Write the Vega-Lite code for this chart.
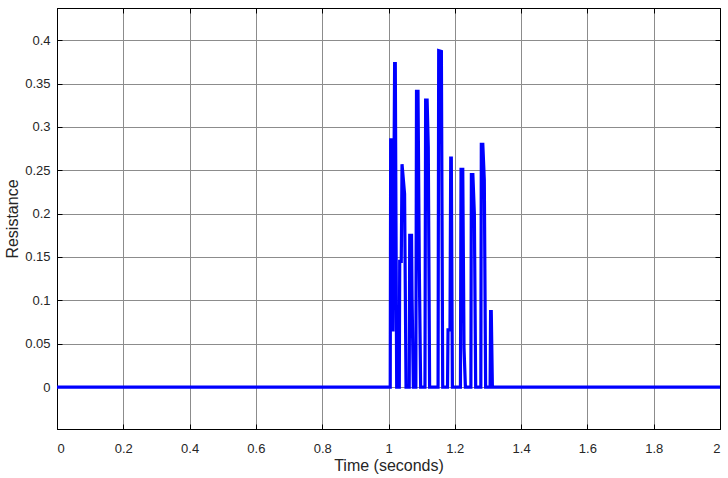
{
  "$schema": "https://vega.github.io/schema/vega-lite/v6.json",
  "autosize": {"type": "none"},
  "padding": {"left": 57, "top": 8, "right": 8, "bottom": 49},
  "width": 663,
  "height": 421,
  "background": "white",
  "config": {
    "view": {"stroke": "black", "strokeWidth": 1},
    "axis": {
      "labelFont": "Liberation Sans",
      "titleFont": "Liberation Sans",
      "labelFontSize": 13,
      "titleFontSize": 16,
      "titleFontWeight": "normal",
      "labelColor": "#262626",
      "titleColor": "#262626",
      "domainColor": "black",
      "tickColor": "black",
      "gridColor": "#8c8c8c",
      "gridOpacity": 1,
      "gridWidth": 1
    }
  },
  "data": {
    "values": [
      {"t": 0, "r": 0},
      {"t": 1.0052, "r": 0},
      {"t": 1.0066, "r": 0.285},
      {"t": 1.0105, "r": 0.285},
      {"t": 1.0136, "r": 0.064},
      {"t": 1.0185, "r": 0.373},
      {"t": 1.0205, "r": 0.373},
      {"t": 1.0247, "r": 0},
      {"t": 1.0325, "r": 0},
      {"t": 1.0338, "r": 0.145},
      {"t": 1.0385, "r": 0.145},
      {"t": 1.0408, "r": 0.257},
      {"t": 1.0485, "r": 0.223},
      {"t": 1.0529, "r": 0},
      {"t": 1.0625, "r": 0},
      {"t": 1.064, "r": 0.175},
      {"t": 1.0695, "r": 0.175},
      {"t": 1.071, "r": 0.104},
      {"t": 1.075, "r": 0},
      {"t": 1.0825, "r": 0},
      {"t": 1.0845, "r": 0.341},
      {"t": 1.089, "r": 0.341},
      {"t": 1.093, "r": 0.135},
      {"t": 1.097, "r": 0},
      {"t": 1.11, "r": 0},
      {"t": 1.112, "r": 0.331},
      {"t": 1.1165, "r": 0.331},
      {"t": 1.12, "r": 0.277},
      {"t": 1.124, "r": 0},
      {"t": 1.1495, "r": 0},
      {"t": 1.1514, "r": 0.388},
      {"t": 1.1595, "r": 0.387},
      {"t": 1.1635, "r": 0},
      {"t": 1.178, "r": 0},
      {"t": 1.1796, "r": 0.066},
      {"t": 1.1855, "r": 0.066},
      {"t": 1.1877, "r": 0.264},
      {"t": 1.1895, "r": 0.264},
      {"t": 1.1927, "r": 0},
      {"t": 1.217, "r": 0},
      {"t": 1.2188, "r": 0.251},
      {"t": 1.224, "r": 0.251},
      {"t": 1.2278, "r": 0.045},
      {"t": 1.232, "r": 0},
      {"t": 1.2485, "r": 0},
      {"t": 1.25, "r": 0.245},
      {"t": 1.2545, "r": 0.245},
      {"t": 1.259, "r": 0.2},
      {"t": 1.263, "r": 0},
      {"t": 1.2785, "r": 0},
      {"t": 1.28, "r": 0.28},
      {"t": 1.2845, "r": 0.28},
      {"t": 1.289, "r": 0.239},
      {"t": 1.293, "r": 0},
      {"t": 1.3065, "r": 0},
      {"t": 1.308, "r": 0.087},
      {"t": 1.31, "r": 0.087},
      {"t": 1.3134, "r": 0},
      {"t": 2, "r": 0}
    ]
  },
  "layer": [
    {
      "mark": {"type": "line", "color": "#0000ff", "strokeWidth": 3.2, "strokeJoin": "miter", "clip": true},
      "encoding": {
        "x": {
          "field": "t", "type": "quantitative",
          "scale": {"domain": [0, 2], "nice": false, "zero": false},
          "axis": {"title": "Time (seconds)", "values": [0, 0.2, 0.4, 0.6, 0.8, 1, 1.2, 1.4, 1.6, 1.8, 2], "format": "~g", "tickSize": -5, "labelPadding": 18, "titlePadding": 2, "grid": true, "orient": "bottom"}
        },
        "y": {
          "field": "r", "type": "quantitative",
          "scale": {"domain": [-0.0484, 0.4372], "nice": false, "zero": false},
          "axis": {"title": "Resistance", "values": [0, 0.05, 0.1, 0.15, 0.2, 0.25, 0.3, 0.35, 0.4], "format": "~g", "tickSize": -5, "labelPadding": 12, "titlePadding": 4, "grid": true, "orient": "left"}
        }
      }
    },
    {
      "mark": {"type": "line", "opacity": 0},
      "encoding": {
        "x": {
          "field": "t", "type": "quantitative",
          "scale": {"domain": [0, 2], "nice": false, "zero": false},
          "axis": {"title": null, "values": [0, 0.2, 0.4, 0.6, 0.8, 1, 1.2, 1.4, 1.6, 1.8, 2], "labels": false, "tickSize": -5, "grid": false, "orient": "top"}
        },
        "y": {
          "field": "r", "type": "quantitative",
          "scale": {"domain": [-0.0484, 0.4372], "nice": false, "zero": false},
          "axis": {"title": null, "values": [0, 0.05, 0.1, 0.15, 0.2, 0.25, 0.3, 0.35, 0.4], "labels": false, "tickSize": -5, "grid": false, "orient": "right"}
        }
      }
    }
  ],
  "resolve": {"axis": {"x": "independent", "y": "independent"}}
}
